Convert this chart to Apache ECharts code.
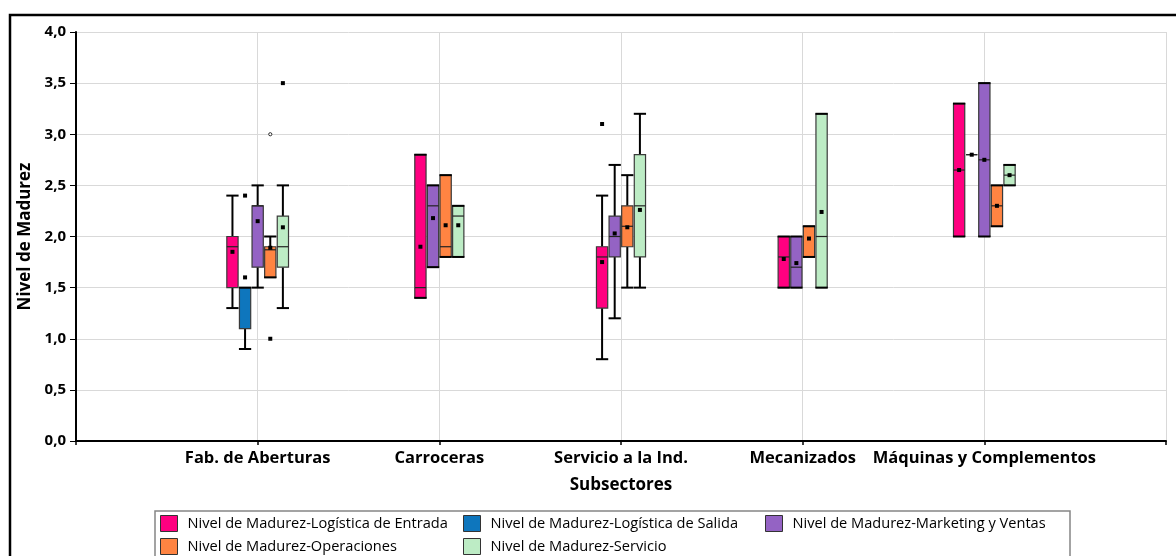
<!DOCTYPE html>
<html>
<head>
<meta charset="utf-8">
<script src="https://cdn.jsdelivr.net/npm/echarts@6/dist/echarts.min.js"></script>
<style>html,body{margin:0;padding:0;background:#fff}#c{width:1176px;height:556px}</style>
</head>
<body>
<div id="c"></div>
<script>
// Categories (first and last empty so labels sit on interior ticks)
const categories = ['', 'Fab. de Aberturas', 'Carroceras', 'Servicio a la Ind.', 'Mecanizados', 'Máquinas y Complementos', ''];
const seriesNames = ['Nivel de Madurez-Logística de Entrada', 'Nivel de Madurez-Logística de Salida', 'Nivel de Madurez-Marketing y Ventas', 'Nivel de Madurez-Operaciones', 'Nivel de Madurez-Servicio'];
const seriesColors = ['#FF0080', '#0E76BD', '#9463C4', '#FF8442', '#BDECC5'];

// each entry per subsector: [min, q1, median, q3, max, mean] (null = no data)
const logEntrada = [[1.3, 1.5, 1.9, 2.0, 2.4, 1.85], [1.4, 1.4, 1.5, 2.8, 2.8, 1.9], [0.8, 1.3, 1.8, 1.9, 2.4, 1.75], [1.5, 1.5, 1.8, 2.0, 2.0, 1.78], [2.0, 2.0, 2.65, 3.3, 3.3, 2.65]];
const logSalida  = [[0.9, 1.1, 1.5, 1.5, 1.5, 1.6], null, null, null, [2.8, 2.8, 2.8, 2.8, 2.8, 2.8]];
const marketing  = [[1.5, 1.7, 2.3, 2.3, 2.5, 2.15], [1.7, 1.7, 2.3, 2.5, 2.5, 2.18], [1.2, 1.8, 2.0, 2.2, 2.7, 2.03], [1.5, 1.5, 1.7, 2.0, 2.0, 1.74], [2.0, 2.0, 2.75, 3.5, 3.5, 2.75]];
const operaciones = [[1.6, 1.6, 1.87, 1.9, 2.0, 1.89], [1.8, 1.8, 1.9, 2.6, 2.6, 2.11], [1.5, 1.9, 2.1, 2.3, 2.6, 2.09], [1.8, 1.8, 2.1, 2.1, 2.1, 1.98], [2.1, 2.1, 2.3, 2.5, 2.5, 2.3]];
const servicio   = [[1.3, 1.7, 1.9, 2.2, 2.5, 2.09], [1.8, 1.8, 2.2, 2.3, 2.3, 2.11], [1.5, 1.8, 2.3, 2.8, 3.2, 2.26], [1.5, 1.5, 2.0, 3.2, 3.2, 2.24], [2.5, 2.5, 2.6, 2.7, 2.7, 2.6]];
// outliers: [subsector index, value, kind] kind 0 = square, 1 = open circle
const outEntrada = [[2, 3.1, 0]];
const outSalida = [[0, 2.4, 0]];
const outMarketing = [];
const outOperaciones = [[0, 1.0, 0], [0, 3.0, 1]];
const outServicio = [[0, 3.5, 0]];

const allSeries = [logEntrada, logSalida, marketing, operaciones, servicio];
const allOutliers = [outEntrada, outSalida, outMarketing, outOperaciones, outServicio];

// slot offsets: only present series are packed around the category centre
function slotOffset(sIdx, cIdx) {
  const present = [];
  allSeries.forEach((s, i) => { if (s[cIdx]) present.push(i); });
  const k = present.indexOf(sIdx);
  return k - (present.length - 1) / 2;
}

function renderItem(params, api) {
  const cat = api.value(0);
  const off = api.value(7);
  const band = api.size([1, 0])[0];
  const slot = band * 0.0694;
  const bw = band * 0.062;
  const cx = api.coord([cat, 0])[0] + off * slot;
  const y = v => api.coord([cat, v])[1];
  const color = api.visual('color');
  const mn = api.value(1), q1 = api.value(2), md = api.value(3), q3 = api.value(4), mx = api.value(5), mean = api.value(6);
  const l = cx - bw / 2, r = cx + bw / 2;
  const children = [];
  const ln = (x1, y1, x2, y2, w, c) => children.push({type: 'line', shape: {x1, y1, x2, y2}, style: {stroke: c || '#000', lineWidth: w}});
  const degenerate = mx === mn;
  // whiskers
  if (mx > q3) ln(cx, y(mx), cx, y(q3), 2);
  if (mn < q1) ln(cx, y(q1), cx, y(mn), 2);
  // box
  children.push({type: 'rect', shape: {x: l, y: y(q3), width: bw, height: y(q1) - y(q3)}, style: {fill: color, stroke: '#3a3a3a', lineWidth: 1.2}});
  // median
  ln(l, y(md), r, y(md), 1.2, '#222');
  // caps
  if (!degenerate) {
    ln(l - 0.5, y(mx), r + 0.5, y(mx), 2);
    ln(l - 0.5, y(mn), r + 0.5, y(mn), 2);
  }
  // mean marker
  children.push({type: 'rect', shape: {x: cx - 2, y: y(mean) - 2, width: 4, height: 4}, style: {fill: '#000'}});
  return {type: 'group', children};
}

function renderOutlier(params, api) {
  const cat = api.value(0);
  const off = api.value(3);
  const band = api.size([1, 0])[0];
  const slot = band * 0.0694;
  const cx = api.coord([cat, 0])[0] + off * slot;
  const cy = api.coord([cat, api.value(1)])[1];
  if (api.value(2) === 1) {
    return {type: 'circle', shape: {cx, cy, r: 1.6}, style: {fill: '#fff', stroke: '#000', lineWidth: 0.8}};
  }
  return {type: 'rect', shape: {x: cx - 2, y: cy - 2, width: 4, height: 4}, style: {fill: '#000'}};
}

const series = [];
allSeries.forEach((s, i) => {
  const data = [];
  s.forEach((d, c) => { if (d) data.push([c + 1, ...d, slotOffset(i, c)]); });
  series.push({
    name: seriesNames[i], type: 'custom', renderItem, data,
    itemStyle: {color: seriesColors[i]}, color: seriesColors[i],
    encode: {x: 0, y: [1, 2, 3, 4, 5, 6]}, z: 3
  });
  const od = allOutliers[i].map(o => [o[0] + 1, o[1], o[2], slotOffset(i, o[0])]);
  series.push({
    name: seriesNames[i] + '_out', type: 'custom', renderItem: renderOutlier, data: od,
    encode: {x: 0, y: 1}, z: 4
  });
});

const FONT = 'Open Sans';
const legendPos = [[160, 515], [463, 515], [765, 515], [160, 538], [463, 538]];
const legends = seriesNames.map((n, i) => ({
  data: [n], left: legendPos[i][0], top: legendPos[i][1], orient: 'horizontal', padding: 0,
  icon: 'rect', itemWidth: 17, itemHeight: 16, selectedMode: false,
  itemStyle: {borderColor: '#333', borderWidth: 1},
  textStyle: {fontFamily: FONT, fontSize: 14.6, color: '#000', padding: [0, 0, 0, 5]}
}));

const chart = echarts.init(document.getElementById('c'), null, {renderer: 'canvas'});
chart.setOption({
  animation: false,
  backgroundColor: '#fff',
  grid: {left: 76, right: 10, top: 32, bottom: 115},
  graphic: [
    {type: 'rect', z: 0, shape: {x: 10, y: 15, width: 1300, height: 700}, style: {fill: 'none', stroke: '#000', lineWidth: 2.5}},
    {type: 'rect', z: 0, shape: {x: 155, y: 511, width: 915, height: 100}, style: {fill: '#fff', stroke: '#858585', lineWidth: 1.5}}
  ],
  legend: legends,
  xAxis: {
    type: 'category', data: categories, boundaryGap: false,
    axisLine: {lineStyle: {color: '#000', width: 2}},
    axisTick: {show: true, length: 4, lineStyle: {color: '#000', width: 1.5}},
    axisLabel: {fontFamily: FONT, fontWeight: 'bold', fontSize: 16.5, color: '#000', margin: 9, interval: 0},
    splitLine: {show: true, lineStyle: {color: '#d9d9d9', width: 1}},
    name: 'Subsectores', nameLocation: 'middle', nameGap: 36,
    nameTextStyle: {fontFamily: FONT, fontWeight: 'bold', fontSize: 17, color: '#000'}
  },
  yAxis: {
    type: 'value', min: 0, max: 4, interval: 0.5,
    axisLine: {show: true, lineStyle: {color: '#000', width: 2}},
    axisTick: {show: true, length: 6, lineStyle: {color: '#000', width: 1}},
    axisLabel: {fontFamily: FONT, fontWeight: 'bold', fontSize: 15, color: '#000', margin: 10,
      formatter: v => v.toFixed(1).replace('.', ',')},
    splitLine: {show: true, lineStyle: {color: '#d9d9d9', width: 1}},
    name: 'Nivel de Madurez', nameLocation: 'middle', nameGap: 42, nameRotate: 90,
    nameTextStyle: {fontFamily: FONT, fontWeight: 'bold', fontSize: 17, color: '#000'}
  },
  series
});
</script>
</body>
</html>
